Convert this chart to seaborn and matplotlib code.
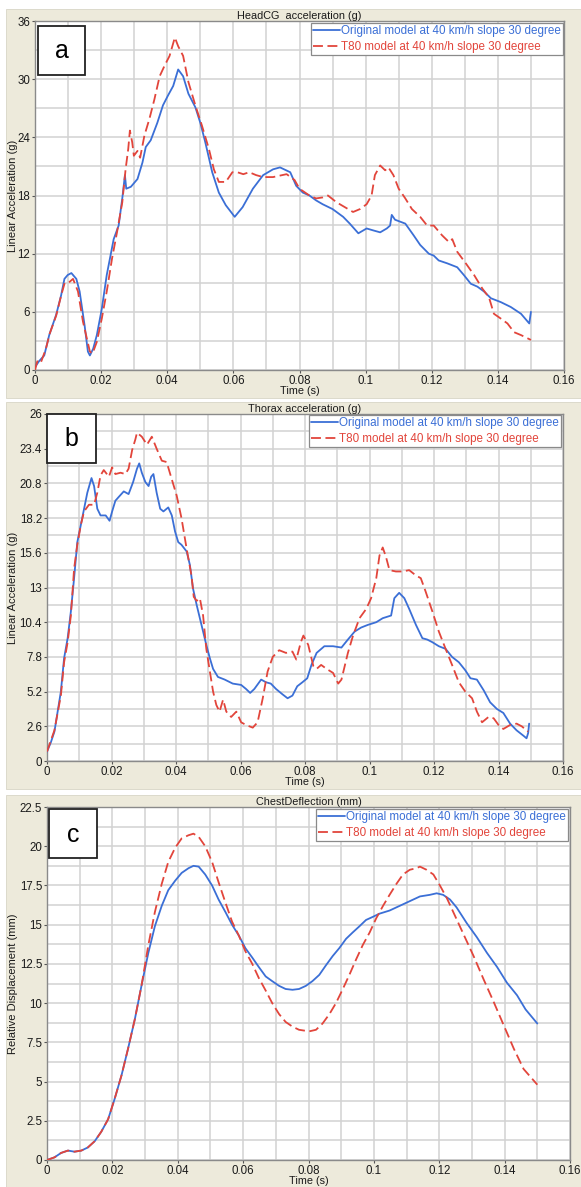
import numpy as np
import pandas as pd
import matplotlib
matplotlib.use("Agg")
import matplotlib.pyplot as plt
from matplotlib.patches import Rectangle
from matplotlib.ticker import MultipleLocator, FixedLocator, FuncFormatter
import seaborn as sns

# ---------------- data ----------------
labels = ["Original model at 40 km/h slope 30 degree", "T80 model at 40 km/h slope 30 degree"]
titles = ["HeadCG  acceleration (g)", "Thorax acceleration (g)", "ChestDeflection (mm)"]
ylabels = ["Linear Acceleration (g)", "Linear Acceleration (g)", "Relative Displacement (mm)"]
panel_letters = ["a", "b", "c"]
xticks = [0, 0.02, 0.04, 0.06, 0.08, 0.1, 0.12, 0.14, 0.16]
yticks_a = [0, 6, 12, 18, 24, 30, 36]
yticks_b = [0, 2.6, 5.2, 7.8, 10.4, 13, 15.6, 18.2, 20.8, 23.4, 26]
yticks_c = [0, 2.5, 5, 7.5, 10, 12.5, 15, 17.5, 20, 22.5]

t_a_orig = [0.0, 0.0012, 0.0028, 0.0043, 0.0064, 0.0079, 0.0089, 0.0099, 0.011, 0.0125, 0.0135, 0.015, 0.016, 0.0166,
            0.0176, 0.0187, 0.0202, 0.0217, 0.0238, 0.0253, 0.0264, 0.0272, 0.0276, 0.029, 0.031, 0.0325, 0.0335, 0.035,
            0.037, 0.0387, 0.0402, 0.0418, 0.0433, 0.0448, 0.0464, 0.0485, 0.05, 0.0515, 0.0536, 0.0556, 0.0577, 0.0604,
            0.0628, 0.0659, 0.069, 0.072, 0.0741, 0.0772, 0.079, 0.081, 0.083, 0.085, 0.087, 0.090, 0.0932, 0.0952,
            0.0978, 0.1003, 0.1023, 0.1044, 0.1064, 0.1074, 0.1079, 0.1089, 0.112, 0.1145, 0.1165, 0.1191, 0.1206,
            0.1221, 0.1247, 0.1277, 0.1297, 0.1318, 0.1338, 0.1358, 0.1379, 0.1409, 0.1439, 0.147, 0.1495, 0.15]
g_a_orig = [0.3, 0.9, 1.5, 3.6, 5.7, 7.7, 9.4, 9.8, 10.0, 9.4, 8.1, 4.6, 1.9, 1.5,
            2.2, 3.6, 6.3, 9.8, 13.5, 14.9, 17.7, 20.1, 18.7, 18.9, 19.7, 21.4, 23.0, 23.7,
            25.5, 27.3, 28.3, 29.3, 31.0, 30.3, 28.5, 27.1, 25.5, 23.5, 20.4, 18.3, 17.0, 15.8,
            16.8, 18.7, 20.1, 20.7, 20.9, 20.4, 19.0, 18.3, 18.0, 17.5, 17.1, 16.6, 15.8, 15.1,
            14.1, 14.6, 14.4, 14.2, 14.6, 14.9, 16.0, 15.5, 15.1, 13.9, 12.9, 12.0, 11.8,
            11.3, 11.0, 10.6, 9.8, 8.9, 8.6, 8.1, 7.4, 7.0, 6.5, 5.8, 4.8, 6.0]

t_a_t80 = [0.0, 0.0007, 0.0017, 0.0033, 0.0045, 0.0064, 0.008, 0.009, 0.0105, 0.0115, 0.013, 0.0145, 0.0166, 0.0174,
           0.0187, 0.0202, 0.0217, 0.0233, 0.0248, 0.0264, 0.0274, 0.0282, 0.0287, 0.0294, 0.0299, 0.031, 0.0318,
           0.0331, 0.0346, 0.0361, 0.0377, 0.0392, 0.0407, 0.0423, 0.0433, 0.0448, 0.0464, 0.0485, 0.0505, 0.0526,
           0.0541, 0.0556, 0.0577, 0.0597, 0.0612, 0.063, 0.0648, 0.0669, 0.069, 0.072, 0.0761, 0.0785, 0.080, 0.083,
           0.085, 0.087, 0.0886, 0.0912, 0.0937, 0.0962, 0.0983, 0.1003, 0.1018, 0.1028, 0.1044, 0.1059, 0.1069,
           0.1084, 0.11, 0.112, 0.114, 0.1165, 0.1186, 0.1206, 0.1231, 0.1252, 0.1262, 0.1277, 0.1303, 0.1328, 0.1353,
           0.1373, 0.1388, 0.1409, 0.1429, 0.1449, 0.147, 0.15]
g_a_t80 = [0.0, 0.9, 0.7, 2.2, 3.8, 5.6, 7.8, 9.0, 9.1, 9.4, 8.1, 5.0, 1.9, 1.7,
           2.9, 5.3, 8.1, 11.5, 14.2, 17.3, 20.7, 22.8, 24.7, 23.5, 22.1, 22.6, 21.9,
           24.2, 25.9, 27.9, 30.3, 31.4, 32.4, 34.3, 33.4, 32.4, 29.7, 27.3, 25.2, 22.8,
           20.7, 19.4, 19.4, 20.4, 20.4, 20.2, 20.4, 20.1, 19.9, 19.9, 20.2, 19.6, 18.7, 18.0,
           17.7, 17.8, 18.0, 17.3, 16.8, 16.3, 16.6, 17.1, 18.0, 20.1, 21.1, 20.6, 20.9,
           20.1, 18.7, 17.7, 16.6, 15.8, 14.9, 14.9, 13.9, 13.2, 13.5, 12.2, 11.0, 9.8, 8.4,
           7.5, 5.8, 5.3, 4.8, 3.9, 3.6, 3.1]

t_b_orig = [0.0, 0.0012, 0.0023, 0.0033, 0.0043, 0.0053, 0.0064, 0.0074, 0.0084, 0.0094, 0.0105, 0.0115, 0.0125,
            0.0138, 0.0146, 0.0156, 0.0166, 0.0182, 0.0194, 0.0202, 0.0212, 0.0223, 0.0238, 0.0253, 0.0267, 0.0279,
            0.0286, 0.0294, 0.0305, 0.0315, 0.0323, 0.033, 0.034, 0.0351, 0.0361, 0.0376, 0.0387, 0.0397, 0.0407,
            0.0417, 0.0433, 0.0443, 0.0453, 0.0464, 0.0474, 0.0484, 0.0494, 0.0505, 0.0515, 0.053, 0.0551, 0.0576,
            0.0602, 0.0617, 0.063, 0.0643, 0.0664, 0.0679, 0.0694, 0.071, 0.073, 0.0746, 0.0761, 0.0776, 0.0792,
            0.0807, 0.082, 0.0836, 0.086, 0.0887, 0.0913, 0.0933, 0.0954, 0.0974, 0.0995, 0.1021, 0.1041, 0.1067,
            0.1077, 0.1092, 0.1108, 0.1123, 0.1144, 0.1164, 0.1179, 0.1195, 0.1215, 0.1236, 0.1256, 0.1277, 0.1297,
            0.1313, 0.1333, 0.1354, 0.1374, 0.1395, 0.1415, 0.1436, 0.1456, 0.1477, 0.1487, 0.1492, 0.1495]
g_b_orig = [0.7, 1.4, 2.2, 3.7, 5.2, 7.7, 9.2, 11.2, 13.7, 16.4, 17.7, 18.9, 20.1,
            21.2, 20.6, 18.9, 18.4, 18.4, 18.0, 18.7, 19.5, 19.8, 20.2, 20.0, 20.9, 21.9,
            22.3, 21.6, 20.9, 20.6, 21.3, 21.5, 20.1, 18.9, 18.7, 19.0, 18.4, 17.2, 16.4,
            16.2, 15.7, 14.7, 12.9, 11.7, 10.7, 9.7, 8.7, 7.7, 6.9, 6.3, 6.1, 5.8,
            5.7, 5.4, 5.1, 5.4, 6.1, 5.9, 5.8, 5.4, 5.0, 4.7, 4.9, 5.6, 5.9,
            6.2, 7.2, 8.1, 8.6, 8.6, 8.5, 9.1, 9.7, 10.0, 10.2, 10.4, 10.7, 10.9,
            12.2, 12.6, 12.2, 11.4, 10.2, 9.2, 9.1, 8.9, 8.6, 8.4, 7.8, 7.4, 6.8,
            6.2, 6.1, 5.3, 4.4, 3.9, 3.6, 2.8, 2.3, 1.9, 1.7, 2.1, 2.8]

t_b_t80 = [0.0, 0.0023, 0.0043, 0.0053, 0.0064, 0.0074, 0.0084, 0.0094, 0.0105, 0.0115, 0.013, 0.0146, 0.0156,
           0.0166, 0.0176, 0.0192, 0.0202, 0.0212, 0.0228, 0.0243, 0.0253, 0.0264, 0.0274, 0.0279, 0.0294, 0.031,
           0.0325, 0.034, 0.0356, 0.0371, 0.0387, 0.0402, 0.0417, 0.0433, 0.0448, 0.0455, 0.0464, 0.0474, 0.0484,
           0.0494, 0.0505, 0.0515, 0.0525, 0.0535, 0.0546, 0.0556, 0.0571, 0.0587, 0.0602, 0.0617, 0.0638, 0.0653,
           0.0669, 0.0684, 0.07, 0.072, 0.0741, 0.0761, 0.0773, 0.0787, 0.0795, 0.081, 0.0826, 0.0836, 0.085, 0.0867,
           0.0887, 0.0903, 0.0913, 0.0933, 0.0949, 0.0969, 0.099, 0.1005, 0.1021, 0.1031, 0.1041, 0.1051, 0.1062,
           0.1082, 0.1103, 0.1123, 0.1144, 0.1159, 0.1174, 0.1195, 0.1215, 0.1236, 0.1256, 0.1277, 0.1297, 0.1318,
           0.1333, 0.1349, 0.1369, 0.1385, 0.14, 0.1415, 0.1436, 0.1456, 0.1472, 0.1492]
g_b_t80 = [0.7, 2.3, 4.9, 7.4, 8.9, 10.9, 14.4, 16.2, 17.7, 18.7, 19.2, 19.2, 20.1,
           21.4, 21.8, 21.3, 22.0, 21.5, 21.6, 21.5, 21.9, 23.3, 24.1, 24.6, 24.3, 23.7,
           24.3, 23.4, 22.5, 22.4, 21.1, 19.9, 18.2, 15.9, 13.9, 12.3, 12.0, 12.2, 10.9,
           8.4, 6.7, 5.2, 4.2, 3.7, 4.6, 3.7, 3.3, 3.7, 2.9, 2.7, 2.5, 2.9,
           4.7, 6.7, 7.8, 8.3, 8.1, 8.2, 7.6, 8.9, 9.4, 8.7, 7.1, 6.9, 7.2, 6.9,
           6.6, 5.8, 6.1, 8.1, 9.4, 10.7, 11.4, 12.2, 13.7, 15.4, 16.0, 15.3, 14.3,
           14.2, 14.2, 14.3, 13.9, 13.7, 12.7, 11.2, 9.7, 8.4, 7.2, 5.9, 5.2, 4.7,
           3.7, 2.9, 3.3, 3.2, 2.7, 2.4, 2.7, 2.8, 2.6, 2.2]

t_c_orig = [0.0, 0.0023, 0.0043, 0.0064, 0.0084, 0.0105, 0.0125, 0.0146, 0.0166, 0.0187, 0.0207, 0.0228, 0.0248,
            0.0269, 0.0289, 0.031, 0.033, 0.0351, 0.0371, 0.0392, 0.0412, 0.0433, 0.0448, 0.0464, 0.0484, 0.0505,
            0.0525, 0.0546, 0.0566, 0.0587, 0.0607, 0.0628, 0.0648, 0.0669, 0.0689, 0.071, 0.073, 0.0751, 0.0771,
            0.0792, 0.0812, 0.0833, 0.0853, 0.0874, 0.0894, 0.0915, 0.0935, 0.0956, 0.0976, 0.0997, 0.1017, 0.1048,
            0.1079, 0.111, 0.1141, 0.1171, 0.1192, 0.1212, 0.1233, 0.1253, 0.1284, 0.1315, 0.1346, 0.1377, 0.1407,
            0.1438, 0.1464, 0.15]
d_c_orig = [0.0, 0.17, 0.45, 0.6, 0.53, 0.6, 0.8, 1.2, 1.8, 2.6, 3.9, 5.4, 7.1,
            9.0, 11.1, 13.2, 14.9, 16.2, 17.2, 17.8, 18.3, 18.6, 18.75, 18.7, 18.2, 17.5,
            16.6, 15.8, 15.0, 14.3, 13.5, 12.9, 12.3, 11.7, 11.4, 11.1, 10.9, 10.85, 10.9,
            11.1, 11.4, 11.8, 12.4, 13.0, 13.5, 14.1, 14.5, 14.9, 15.3, 15.5, 15.7, 15.9,
            16.2, 16.5, 16.8, 16.9, 17.0, 16.9, 16.6, 16.1, 15.1, 14.2, 13.2, 12.3, 11.3,
            10.5, 9.6, 8.7]

t_c_t80 = [0.0, 0.0023, 0.0043, 0.0064, 0.0084, 0.0105, 0.0125, 0.0146, 0.0166, 0.0187, 0.0207, 0.0228, 0.0248,
           0.0269, 0.0289, 0.031, 0.033, 0.0351, 0.0371, 0.0392, 0.0412, 0.0433, 0.0448, 0.0464, 0.0484, 0.0505,
           0.0525, 0.0546, 0.0566, 0.0587, 0.0607, 0.0628, 0.0648, 0.0669, 0.0689, 0.071, 0.073, 0.0751, 0.0771,
           0.0802, 0.0823, 0.0843, 0.0864, 0.0884, 0.0905, 0.0925, 0.0946, 0.0966, 0.0987, 0.1007, 0.1028, 0.1048,
           0.1069, 0.1089, 0.111, 0.113, 0.1141, 0.1161, 0.1182, 0.1202, 0.1223, 0.1243, 0.1274, 0.1305, 0.1336,
           0.1366, 0.1397, 0.1428, 0.1458, 0.15]
d_c_t80 = [0.0, 0.17, 0.45, 0.6, 0.53, 0.6, 0.8, 1.2, 1.8, 2.6, 3.9, 5.4, 7.1,
           9.0, 11.1, 13.7, 15.8, 17.6, 19.0, 19.9, 20.5, 20.7, 20.8, 20.6, 20.0, 19.0,
           17.7, 16.4, 15.2, 14.3, 13.3, 12.5, 11.6, 10.8, 10.0, 9.3, 8.8, 8.5, 8.3,
           8.2, 8.3, 8.7, 9.3, 10.0, 10.9, 11.8, 12.8, 13.7, 14.5, 15.4, 16.2, 16.9,
           17.6, 18.2, 18.5, 18.6, 18.7, 18.5, 18.2, 17.5, 16.7, 15.8, 14.4, 13.0, 11.5,
           10.1, 8.6, 7.1, 5.8, 4.8]

# ---------------- styling ----------------
W, H = 581, 1187
BLUE = "#3b6fd6"
RED = "#e2453b"
BEIGE = "#edeadb"
GRID = "#d2d2d2"
FONT = ["Liberation Sans", "DejaVu Sans"]

sns.set_theme(style="white")
plt.rcParams["font.family"] = FONT

fig = plt.figure(figsize=(W / 100, H / 100), dpi=100)
fig.patch.set_facecolor("white")


def fx(px):
    return px / W


def fy(py):
    return 1 - py / H


panels = [
    dict(bg=(9, 398), ax=(35, 564, 21, 370), xl=391, box=(38, 85, 26, 75), leg=(563, 23),
         yt=yticks_a, ylim=36, minor_y=3),
    dict(bg=(402, 789), ax=(47, 563, 414, 761), xl=782, box=(47, 96, 414, 463), leg=(561, 415),
         yt=yticks_b, ylim=26, minor_y=1.3),
    dict(bg=(795, 1187), ax=(47, 570, 807, 1160), xl=1181, box=(49, 97, 809, 858), leg=(568, 809),
         yt=yticks_c, ylim=22.5, minor_y=1.25),
]

series = [
    (t_a_orig, g_a_orig, t_a_t80, g_a_t80),
    (t_b_orig, g_b_orig, t_b_t80, g_b_t80),
    (t_c_orig, d_c_orig, t_c_t80, d_c_t80),
]

for i, (p, (t1, y1, t2, y2)) in enumerate(zip(panels, series)):
    top, bot = p["bg"]
    fig.patches.append(Rectangle((fx(6), fy(bot)), fx(W - 6), (bot - top) / H, transform=fig.transFigure,
                                 facecolor=BEIGE, edgecolor="#d8d5c6", lw=0.6, zorder=-10))
    l, r, t, b = p["ax"]
    ax = fig.add_axes([fx(l), fy(b), (r - l) / W, (b - t) / H])
    ax.set_facecolor("white")

    d1 = pd.DataFrame({"t": t1, "v": y1})
    d2 = pd.DataFrame({"t": t2, "v": y2})
    sns.lineplot(data=d1, x="t", y="v", ax=ax, color=BLUE, lw=1.3, estimator=None, sort=False,
                 label=labels[0], zorder=3)
    sns.lineplot(data=d2, x="t", y="v", ax=ax, color=RED, lw=1.3, estimator=None, sort=False,
                 label=labels[1], linestyle=(0, (5.5, 2.5)), zorder=4)

    ax.set_xlim(0, 0.16)
    ax.set_ylim(0, p["ylim"])
    ax.xaxis.set_major_locator(FixedLocator(xticks))
    ax.xaxis.set_minor_locator(MultipleLocator(0.01))
    ax.yaxis.set_major_locator(FixedLocator(p["yt"]))
    ax.yaxis.set_minor_locator(MultipleLocator(p["minor_y"]))
    ax.xaxis.set_major_formatter(FuncFormatter(lambda v, pos: f"{v:g}"))
    ax.yaxis.set_major_formatter(FuncFormatter(lambda v, pos: f"{v:g}"))
    ax.grid(True, which="both", color=GRID, lw=1.1, zorder=0)
    ax.set_axisbelow(True)
    ax.tick_params(axis="both", which="major", length=2.5, width=0.8, color="#555555", pad=1,
                   labelsize=8.3, labelcolor="#1a1a1a", direction="out", bottom=True, left=True)
    ax.tick_params(axis="both", which="minor", length=0)
    for s in ax.spines.values():
        s.set_color("#8a8a8a")
        s.set_linewidth(1.0)
    ax.set_xlabel("")
    ax.set_ylabel("")
    ax.set_title(titles[i], fontsize=7.8, color="#1a1a1a", pad=1.5)

    fig.text(fx((l + r) / 2), fy(p["xl"]), "Time (s)", ha="center", va="center", fontsize=7.8, color="#1a1a1a")
    fig.text(fx(13), fy((t + b) / 2), ylabels[i], ha="center", va="center", rotation=90,
             fontsize=8.0, color="#1a1a1a")

    # panel letter box
    bl, br, bt, bb = p["box"]
    fig.patches.append(Rectangle((fx(bl), fy(bb)), (br - bl) / W, (bb - bt) / H, transform=fig.transFigure,
                                 facecolor="white", edgecolor="#222222", lw=1.3, zorder=20))
    fig.text(fx((bl + br) / 2), fy((bt + bb) / 2 + 1), panel_letters[i], ha="center", va="center",
             fontsize=18, color="black", zorder=21)

    # legend
    lx, ly = p["leg"]
    if ax.legend_:
        ax.legend_.remove()
    handles = ax.get_lines()[:2]
    leg = fig.legend(handles, labels, loc="upper right", bbox_to_anchor=(fx(lx), fy(ly)),
                     bbox_transform=fig.transFigure, fontsize=8.4, frameon=True, fancybox=False,
                     framealpha=1, edgecolor="#8a8a8a", borderpad=0.2, labelspacing=0.3,
                     handlelength=2.3, handletextpad=0.05, borderaxespad=0)
    leg.get_frame().set_linewidth(0.9)
    leg.set_zorder(30)
    for txt, c in zip(leg.get_texts(), [BLUE, RED]):
        txt.set_color(c)

fig.savefig("out.png", dpi=100, facecolor="white")
